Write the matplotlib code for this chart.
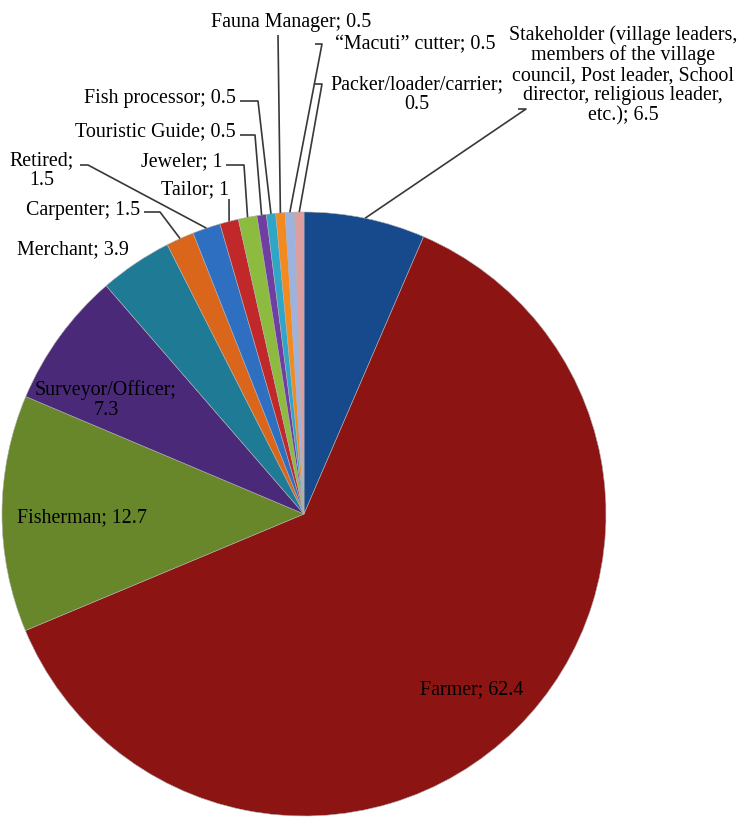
import numpy as np
import matplotlib.pyplot as plt

plt.rcParams['font.family'] = ['Liberation Serif', 'DejaVu Serif']

labels = ['Stakeholder (village leaders,\nmembers of the village\ncouncil, Post leader, School\ndirector, religious leader,\netc.)',
          'Farmer', 'Fisherman', 'Surveyor/Officer', 'Merchant', 'Carpenter',
          'Retired', 'Tailor', 'Jeweler', 'Touristic Guide', 'Fish processor',
          'Fauna Manager', '\u201cMacuti\u201d cutter', 'Packer/loader/carrier']
values = [6.5, 62.4, 12.7, 7.3, 3.9, 1.5, 1.5, 1, 1, 0.5, 0.5, 0.5, 0.5, 0.5]
colors = ['#174a8c', '#8c1413', '#67872a', '#4a2a78', '#1f7a95', '#d9661a',
          '#2f6fc2', '#c0282a', '#8dbb3f', '#6e3fa0', '#2fa6c7', '#f38a1f',
          '#9db3de', '#dc9e9e']

# label text: (x, y) in pixels from top-left, alignment, leader elbow (or None), line break before value
label_pos = [
    ((623, 75), 'center', (518, 110), False),
    ((472, 690), 'center', None, False),
    ((82, 518), 'center', None, False),
    ((106, 400), 'center', None, True),
    ((73, 250), 'center', None, False),
    ((140, 210), 'right', (152, 213), False),
    ((42, 171), 'center', (80, 166), True),
    ((229, 190), 'right', (229, 200), False),
    ((222, 162), 'right', (236, 166), False),
    ((236, 132), 'right', (247, 136), False),
    ((236, 99), 'right', (250, 102), False),
    ((291, 22), 'center', (278, 36), False),
    ((415, 45), 'center', (320, 45), False),
    ((417, 95), 'center', (320, 85), True),
]

W, H = 739, 820
cx, cy, r = 304, 515, 302

fig = plt.figure(figsize=(W / 100, H / 100), dpi=100)
ax = fig.add_axes([0, 0, 1, 1])
wedges, _ = ax.pie(values, colors=colors, startangle=90, counterclock=False,
                   center=(cx, H - cy), radius=r,
                   wedgeprops=dict(edgecolor='#b0b0b0', linewidth=0.4))
ax.set_xlim(0, W)
ax.set_ylim(0, H)
ax.set_aspect('equal')
ax.axis('off')

for i, (w, lab, v) in enumerate(zip(wedges, labels, values)):
    (tx, ty), ha, elbow, brk = label_pos[i]
    sep = ';\n' if brk else '; '
    txt = f'{lab}{sep}{v:g}'
    ax.text(tx, H - ty, txt, ha=ha, va='center', fontsize=14.4,
            multialignment='center', linespacing=1.06, color='black')
    if elbow is not None:
        mid = np.deg2rad((w.theta1 + w.theta2) / 2)
        px = cx + r * np.cos(mid)
        py = (H - cy) + r * np.sin(mid)
        ex, ey = elbow
        if ha == 'right':
            sx = tx + 4
        elif ex < tx:
            sx = ex - 5 if i in (12, 13) else ex
        else:
            sx = ex
        xs = [sx, ex + (8 if ha == 'right' else (2 if i in (12, 13) else 8)), px]
        ys = [H - ey, H - ey, py]
        if i == 7 or i == 11:
            xs = [ex, px]
            ys = [H - ey, py]
        ax.plot(xs, ys, color='#383838', linewidth=1.2, solid_capstyle='butt')

plt.savefig('out.png', dpi=100)
